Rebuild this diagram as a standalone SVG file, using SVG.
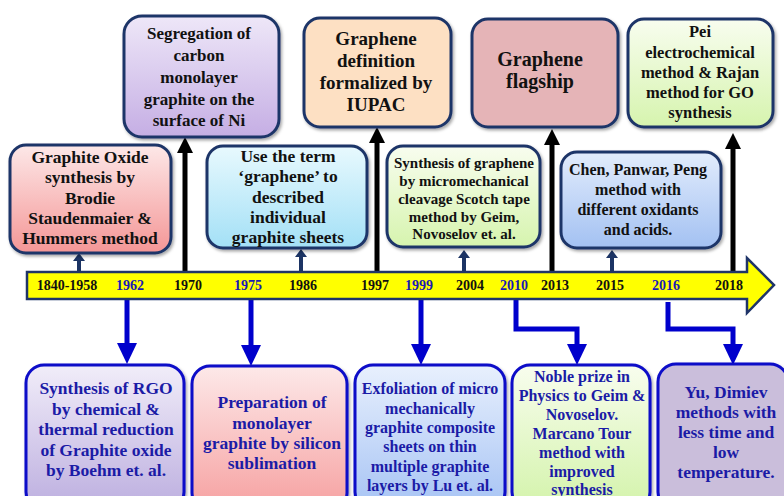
<svg xmlns="http://www.w3.org/2000/svg" width="784" height="496" viewBox="0 0 784 496">
<defs>
<filter id="sh" x="-10%" y="-10%" width="125%" height="130%"><feDropShadow dx="1.5" dy="2" stdDeviation="1.5" flood-color="#000" flood-opacity="0.35"/></filter>
<linearGradient id="g1" x1="0" y1="0" x2="0" y2="1"><stop offset="0" stop-color="#eee7f8"/><stop offset="1" stop-color="#c5aee4"/></linearGradient>
<linearGradient id="g4" x1="0" y1="0" x2="0" y2="1"><stop offset="0" stop-color="#f8fdef"/><stop offset="1" stop-color="#d6f4ae"/></linearGradient>
<linearGradient id="g5" x1="0" y1="0" x2="0" y2="1"><stop offset="0" stop-color="#fde8e8"/><stop offset="1" stop-color="#f49696"/></linearGradient>
<linearGradient id="g6" x1="0" y1="0" x2="0" y2="1"><stop offset="0" stop-color="#e8f9fe"/><stop offset="1" stop-color="#a3e0f6"/></linearGradient>
<linearGradient id="g8" x1="0" y1="0" x2="0" y2="1"><stop offset="0" stop-color="#e2ecfc"/><stop offset="1" stop-color="#a3c1f2"/></linearGradient>
<linearGradient id="g9" x1="0" y1="0" x2="0" y2="1"><stop offset="0" stop-color="#f1edf9"/><stop offset="1" stop-color="#bcaedf"/></linearGradient>
<linearGradient id="g10" x1="0" y1="0" x2="0" y2="1"><stop offset="0" stop-color="#fde9e9"/><stop offset="1" stop-color="#f6a0a0"/></linearGradient>
<linearGradient id="g11" x1="0" y1="0" x2="0" y2="1"><stop offset="0" stop-color="#e8f0fd"/><stop offset="1" stop-color="#a6c3f4"/></linearGradient>
<linearGradient id="g12" x1="0" y1="0" x2="0" y2="1"><stop offset="0" stop-color="#f8fdee"/><stop offset="1" stop-color="#d3f3aa"/></linearGradient>
</defs>
<style>
text{font-family:'Liberation Serif','DejaVu Serif','Times New Roman',serif;font-weight:bold;text-anchor:middle}
.t{fill:#111}
.b{fill:#1b1ba6}
.yr{font-size:14px}
.yk{fill:#111}
.yb{fill:#1a1ab4}
.bt{stroke:#1f3468;stroke-width:3;filter:url(#sh)}
.bb{stroke:#0a0ac8;stroke-width:3;filter:url(#sh)}
.blk{stroke:#000;stroke-width:5;fill:none}
.nav{stroke:#1c3464;stroke-width:4;fill:none}
.blu{stroke:#0000cc;stroke-width:5;fill:none}
</style>

<g id="connectors">
<line class="blk" x1="185" y1="273" x2="185" y2="150"/><polygon points="177,153 193,153 185,137" fill="#000"/>
<line class="blk" x1="377" y1="273" x2="377" y2="140"/><polygon points="369,143 385,143 377,127" fill="#000"/>
<line class="blk" x1="552" y1="273" x2="552" y2="142"/><polygon points="544,145 560,145 552,129" fill="#000"/>
<line class="blk" x1="733" y1="273" x2="733" y2="146"/><polygon points="725,149 741,149 733,133" fill="#000"/>
<line class="nav" x1="79" y1="273" x2="79" y2="259"/><polygon points="73,261 85,261 79,253" fill="#1c3464"/>
<line class="nav" x1="301" y1="273" x2="301" y2="255"/><polygon points="295,257 307,257 301,249" fill="#1c3464"/>
<line class="nav" x1="464" y1="273" x2="464" y2="256"/><polygon points="458,258 470,258 464,250" fill="#1c3464"/>
<line class="nav" x1="612" y1="273" x2="612" y2="256"/><polygon points="606,258 618,258 612,250" fill="#1c3464"/>
<line class="blu" x1="127" y1="298" x2="127" y2="346"/><polygon points="117,343 137,343 127,364" fill="#0000cc"/>
<line class="blu" x1="251" y1="298" x2="251" y2="346"/><polygon points="241,345 261,345 251,366" fill="#0000cc"/>
<line class="blu" x1="421" y1="298" x2="421" y2="346"/><polygon points="411,344 431,344 421,365" fill="#0000cc"/>
<polyline class="blu" points="516,298 516,329 577,329 577,346"/><polygon points="567,344 587,344 577,365" fill="#0000cc"/>
<polyline class="blu" points="668,302 668,329 733,329 733,346"/><polygon points="723,344 743,344 733,365" fill="#0000cc"/>
</g>

<g font-family="'Liberation Serif','DejaVu Serif','Times New Roman',serif" font-weight="bold">
<g id="timeline">
<polygon points="27,272 747,272 747,258 774,285 747,313 747,299 27,299" fill="#ffff00" stroke="#1f3468" stroke-width="2.5"/>
<text class="yr yk" x="67" y="290">1840-1958</text>
<text class="yr yb" x="130" y="290">1962</text>
<text class="yr yk" x="188" y="290">1970</text>
<text class="yr yb" x="248" y="290">1975</text>
<text class="yr yk" x="303" y="290">1986</text>
<text class="yr yk" x="375" y="290">1997</text>
<text class="yr yb" x="419" y="290">1999</text>
<text class="yr yk" x="470" y="290">2004</text>
<text class="yr yb" x="514" y="290">2010</text>
<text class="yr yk" x="555" y="290">2013</text>
<text class="yr yk" x="610" y="290">2015</text>
<text class="yr yb" x="666" y="290">2016</text>
<text class="yr yk" x="729" y="290">2018</text>
</g>

<g id="n1970">
<rect class="bt" x="124" y="16" width="155" height="121" rx="18" fill="url(#g1)"/>
<text class="t" font-size="17" x="199" y="39">Segregation of</text>
<text class="t" font-size="17" x="199" y="61">carbon</text>
<text class="t" font-size="17" x="199" y="83">monolayer</text>
<text class="t" font-size="17" x="199" y="105">graphite on the</text>
<text class="t" font-size="17" x="199" y="126">surface of Ni</text>
</g>

<g id="n1997">
<rect class="bt" x="304" y="18" width="147" height="109" rx="16" fill="#fde0c3"/>
<text class="t" font-size="19" x="376" y="45">Graphene</text>
<text class="t" font-size="19" x="376" y="67">definition</text>
<text class="t" font-size="19" x="376" y="89">formalized by</text>
<text class="t" font-size="19" x="376" y="111">IUPAC</text>
</g>

<g id="n2013">
<rect class="bt" x="472" y="19" width="146" height="108" rx="16" fill="#e5b4b7"/>
<text class="t" font-size="20" x="540" y="66">Graphene</text>
<text class="t" font-size="20" x="540" y="88">flagship</text>
</g>

<g id="n2018">
<rect class="bt" x="628" y="19" width="145" height="108" rx="16" fill="url(#g4)"/>
<text class="t" font-size="16.5" x="700" y="37">Pei</text>
<text class="t" font-size="16.5" x="700" y="58">electrochemical</text>
<text class="t" font-size="16.5" x="700" y="78">method &amp; Rajan</text>
<text class="t" font-size="16.5" x="700" y="98">method for GO</text>
<text class="t" font-size="16.5" x="700" y="118">synthesis</text>
</g>

<g id="n1840">
<rect class="bt" x="10" y="145" width="161" height="108" rx="16" fill="url(#g5)"/>
<text class="t" font-size="17.5" x="90" y="163">Graphite Oxide</text>
<text class="t" font-size="17.5" x="90" y="183">synthesis by</text>
<text class="t" font-size="17.5" x="90" y="204">Brodie</text>
<text class="t" font-size="17.5" x="90" y="224">Staudenmaier &amp;</text>
<text class="t" font-size="17.5" x="90" y="244">Hummers method</text>
</g>

<g id="n1986">
<rect class="bt" x="207" y="146" width="160" height="102" rx="16" fill="url(#g6)"/>
<text class="t" font-size="17.5" x="288" y="162">Use the term</text>
<text class="t" font-size="17.5" x="288" y="182">‘graphene’ to</text>
<text class="t" font-size="17.5" x="288" y="203">described</text>
<text class="t" font-size="17.5" x="288" y="223">individual</text>
<text class="t" font-size="17.5" x="288" y="243">graphite sheets</text>
</g>

<g id="n2004">
<rect class="bt" x="387" y="146" width="153" height="101" rx="16" fill="url(#g4)"/>
<text class="t" font-size="15" x="464" y="168">Synthesis of graphene</text>
<text class="t" font-size="15" x="464" y="186">by micromechanical</text>
<text class="t" font-size="15" x="464" y="204">cleavage Scotch tape</text>
<text class="t" font-size="15" x="464" y="222">method by Geim,</text>
<text class="t" font-size="15" x="464" y="239">Novoselov et. al.</text>
</g>

<g id="n2015">
<rect class="bt" x="561" y="152" width="160" height="96" rx="16" fill="url(#g8)"/>
<text class="t" font-size="16" x="638" y="175">Chen, Panwar, Peng</text>
<text class="t" font-size="16" x="638" y="195">method with</text>
<text class="t" font-size="16" x="638" y="215">different oxidants</text>
<text class="t" font-size="16" x="638" y="235">and acids.</text>
</g>

<g id="n1962">
<rect class="bb" x="26" y="365" width="158" height="145" rx="18" fill="url(#g9)"/>
<text class="b" font-size="17.5" x="106" y="394">Synthesis of RGO</text>
<text class="b" font-size="17.5" x="106" y="415">by chemical &amp;</text>
<text class="b" font-size="17.5" x="106" y="435">thermal reduction</text>
<text class="b" font-size="17.5" x="106" y="456">of Graphite oxide</text>
<text class="b" font-size="17.5" x="106" y="476">by Boehm et. al.</text>
</g>

<g id="n1975">
<rect class="bb" x="192" y="366" width="155" height="145" rx="18" fill="url(#g10)"/>
<text class="b" font-size="17.5" x="272" y="408">Preparation of</text>
<text class="b" font-size="17.5" x="272" y="429">monolayer</text>
<text class="b" font-size="17.5" x="272" y="449">graphite by silicon</text>
<text class="b" font-size="17.5" x="272" y="469">sublimation</text>
</g>

<g id="n1999">
<rect class="bb" x="355" y="365" width="150" height="145" rx="18" fill="url(#g11)"/>
<text class="b" font-size="16" x="430" y="394">Exfoliation of micro</text>
<text class="b" font-size="16" x="430" y="414">mechanically</text>
<text class="b" font-size="16" x="430" y="433">graphite composite</text>
<text class="b" font-size="16" x="430" y="452">sheets on thin</text>
<text class="b" font-size="16" x="430" y="472">multiple graphite</text>
<text class="b" font-size="16" x="430" y="491">layers by Lu et. al.</text>
</g>

<g id="n2010">
<rect class="bb" x="512" y="365" width="138" height="145" rx="18" fill="url(#g12)"/>
<text class="b" font-size="16" x="582" y="382">Noble prize in</text>
<text class="b" font-size="16" x="582" y="401">Physics to Geim &amp;</text>
<text class="b" font-size="16" x="582" y="420">Novoselov.</text>
<text class="b" font-size="16" x="582" y="439">Marcano Tour</text>
<text class="b" font-size="16" x="582" y="458">method with</text>
<text class="b" font-size="16" x="582" y="477">improved</text>
<text class="b" font-size="16" x="582" y="495">synthesis</text>
</g>

<g id="n2016">
<rect class="bb" x="658" y="364" width="130" height="146" rx="18" fill="#cabedb"/>
<text class="b" font-size="17.5" x="726" y="398">Yu, Dimiev</text>
<text class="b" font-size="17.5" x="726" y="418">methods with</text>
<text class="b" font-size="17.5" x="726" y="438">less time and</text>
<text class="b" font-size="17.5" x="726" y="458">low</text>
<text class="b" font-size="17.5" x="726" y="478">temperature.</text>
</g>
</g>
</svg>
